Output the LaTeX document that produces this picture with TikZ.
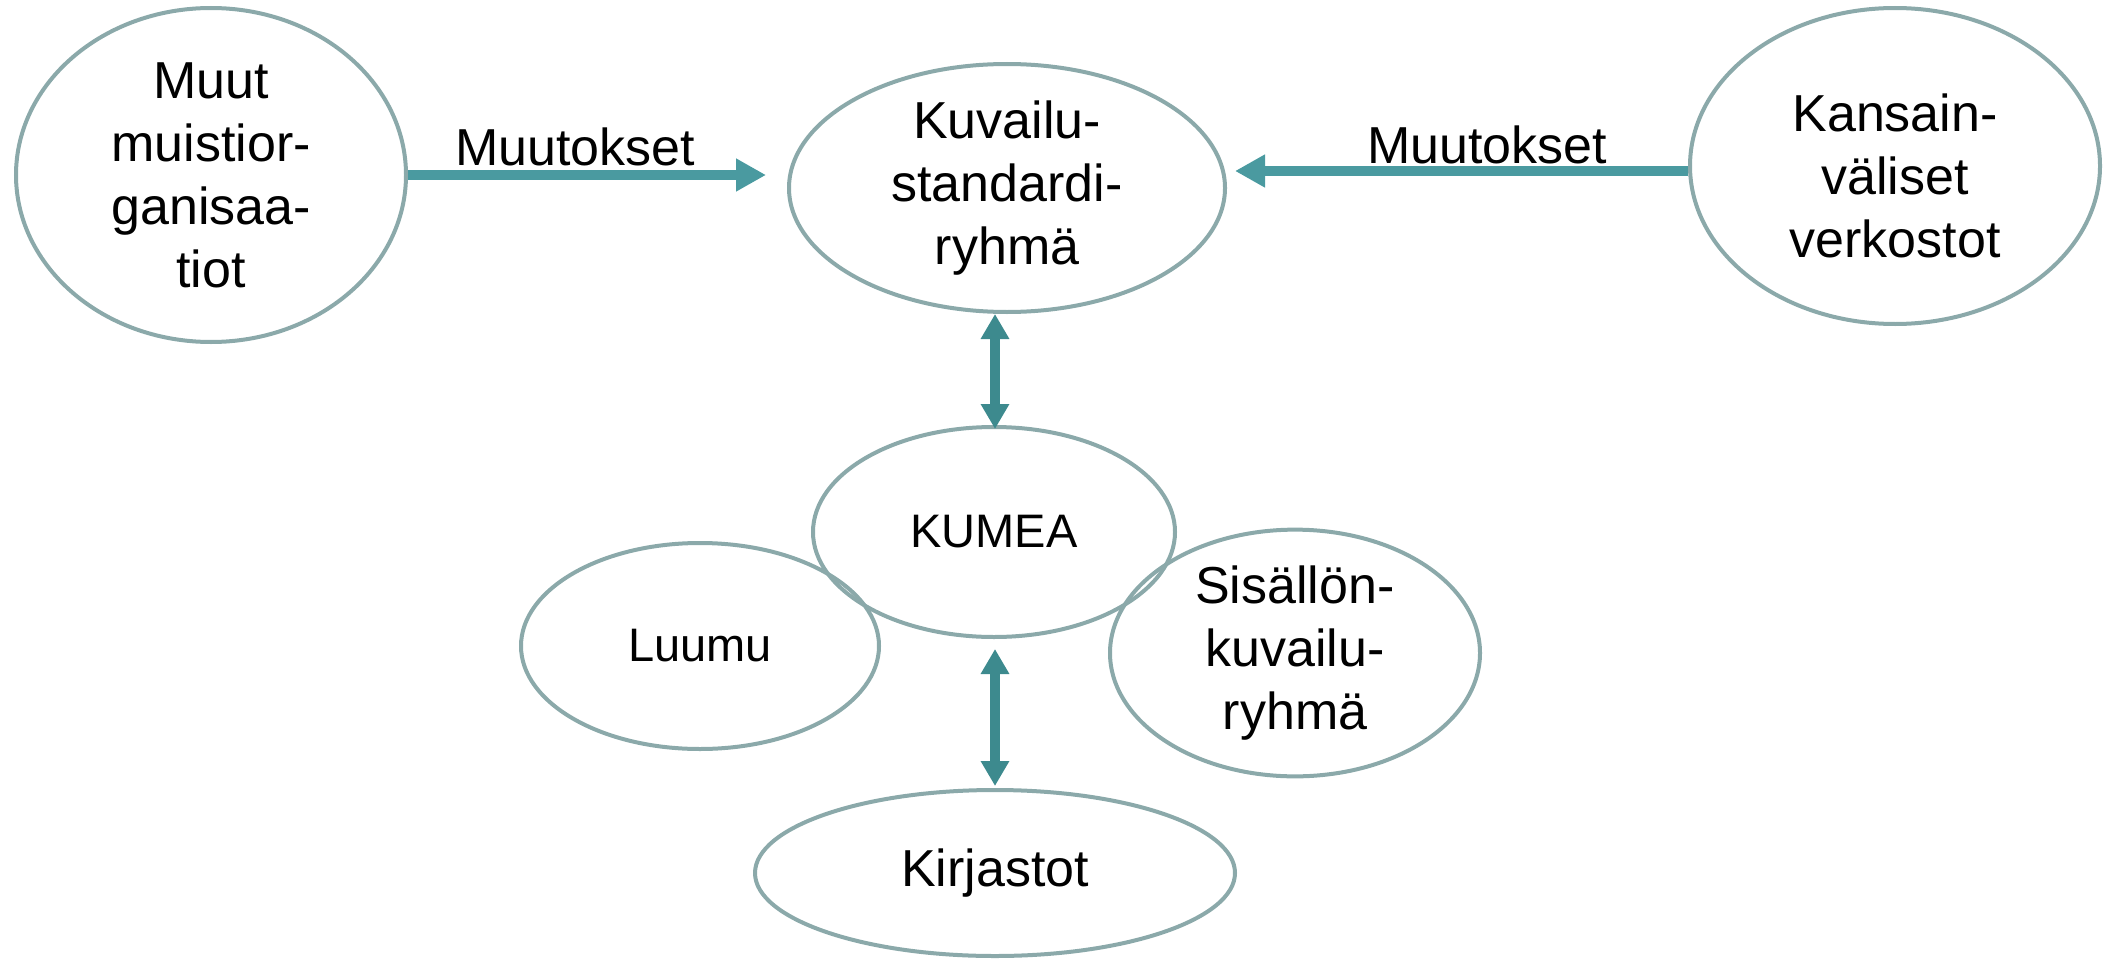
\documentclass[tikz,border=0pt]{standalone}
\usepackage{fontspec}
\setmainfont{Liberation Sans}
\usetikzlibrary{shapes.geometric,arrows.meta}
\definecolor{ringcol}{HTML}{8BA9AA}
\definecolor{harrow}{HTML}{4A9AA0}
\definecolor{varrow}{HTML}{3D8A8E}
\tikzset{
  oval/.style={draw=ringcol, line width=4pt, ellipse, inner sep=0pt, align=center,
    font=\fontsize{52}{63}\selectfont},
  harr/.style={draw=harrow, line width=10pt, -{Triangle[length=30pt,width=31pt]}},
  varr/.style={draw=varrow, line width=10pt, {Triangle[length=25pt,width=27pt]}-{Triangle[length=25pt,width=27pt]}},
  lbl/.style={font=\fontsize{52}{63}\selectfont, inner sep=0pt, anchor=base},
  intext/.style={font=\fontsize{52}{63}\selectfont, inner sep=0pt, align=center}
}
\begin{document}
\begin{tikzpicture}[x=1pt,y=-1pt]
\useasboundingbox (0,0) rectangle (2106,963);
\node[oval, minimum width=390pt, minimum height=334pt] (muut) at (211,175) {Muut\\muistior-\\ganisaa-\\tiot};
\node[oval, minimum width=436pt, minimum height=248pt] (kuv) at (1007,188) {Kuvailu-\\standardi-\\ryhmä};
\node[oval, minimum width=410pt, minimum height=316pt] (kan) at (1895,166) {};
\node[intext] (kantext) at ([yshift=-10pt]kan.center) {Kansain-\\väliset\\verkostot};
\node[oval, minimum width=362pt, minimum height=210pt, font=\fontsize{47}{57}\selectfont] (kumea) at (994,532) {KUMEA};
\node[oval, minimum width=358pt, minimum height=206pt, font=\fontsize{47}{57}\selectfont] (luumu) at (700,646) {Luumu};
\node[oval, minimum width=370pt, minimum height=212pt] (sis) at (1295,653) {Sisällön-\\kuvailu-\\ryhmä};
\node[oval, minimum width=480pt, minimum height=166pt] (kirj) at (995,873) {Kirjastot};
\coordinate (lstart) at (muut.east |- 0,175);
\coordinate (rstart) at (kan.west |- 0,171);
\draw[harr, shorten >=21pt] (lstart) -- (lstart -| kuv.west);
\draw[harr, shorten >=8pt] (rstart) -- (rstart -| kuv.east);
\node[lbl] (m1) at (575,165) {Muutokset};
\node[lbl] (m2) at (1487,163) {Muutokset};
\draw[varr, shorten >=-4pt] (kumea.north) ++(1,0) coordinate (ktop) (kuv.south -| ktop) -- (ktop);
\draw[varr, shorten <=10pt, shorten >=2pt] (kumea.south -| kirj.north) -- (kirj.north);
\end{tikzpicture}
\end{document}
